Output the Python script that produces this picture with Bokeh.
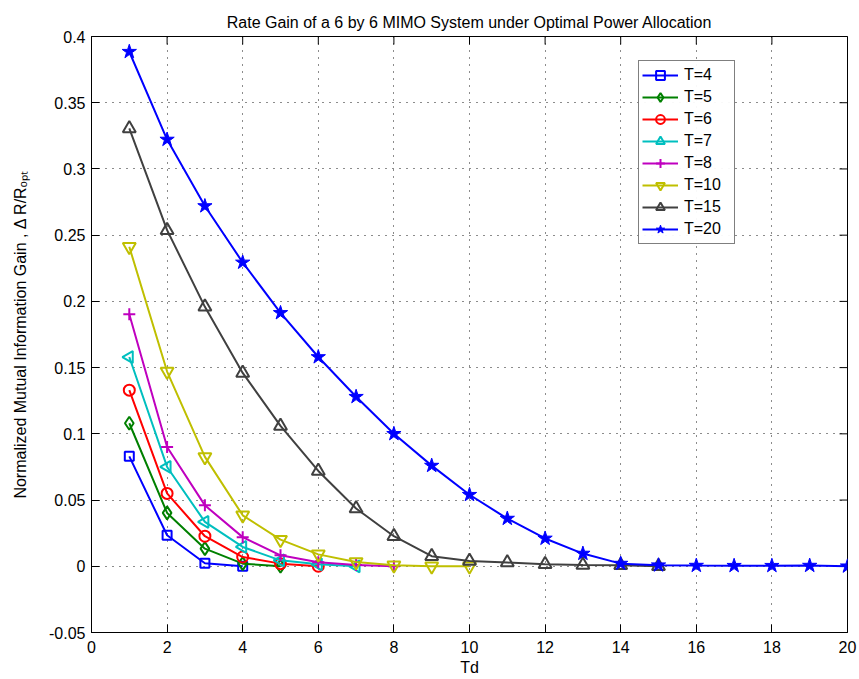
import math
from bokeh.plotting import figure
from bokeh.models import FixedTicker, Range1d, Legend
from bokeh.embed import file_html
from bokeh.resources import INLINE

# ---- data ----
td = list(range(1, 21))
t4 = [0.083, 0.0234, 0.0023, 0.0]
t5 = [0.108, 0.0403, 0.0133, 0.002, 0.0]
t6 = [0.133, 0.055, 0.0227, 0.007, 0.002, 0.0]
t7 = [0.158, 0.075, 0.0335, 0.0146, 0.0045, 0.0015, 0.0]
t8 = [0.1903, 0.090, 0.046, 0.022, 0.0083, 0.003, 0.001, 0.0]
t10 = [0.2412, 0.147, 0.0826, 0.0385, 0.0201, 0.009, 0.0033, 0.0008, 0.0, 0.0]
t15 = [0.3306, 0.2538, 0.1959, 0.146, 0.106, 0.072, 0.0436, 0.0227, 0.0076,
       0.004, 0.0028, 0.0015, 0.001, 0.0008, 0.0]
t20 = [0.3885, 0.3222, 0.272, 0.2294, 0.1913, 0.158, 0.128, 0.100, 0.076,
       0.054, 0.036, 0.021, 0.0096, 0.002, 0.0008, 0.0005, 0.0004, 0.0004,
       0.0005, 0.0]
labels = ["T=4", "T=5", "T=6", "T=7", "T=8", "T=10", "T=15", "T=20"]
series = [t4, t5, t6, t7, t8, t10, t15, t20]
x_ticks = [0, 2, 4, 6, 8, 10, 12, 14, 16, 18, 20]
y_ticks = [-0.05, 0, 0.05, 0.1, 0.15, 0.2, 0.25, 0.3, 0.35, 0.4]
y_tick_labels = ["-0.05", "0", "0.05", "0.1", "0.15", "0.2", "0.25", "0.3", "0.35", "0.4"]

colors = ["#0000ff", "#008000", "#ff0000", "#00bfbf", "#bf00bf", "#bfbf00", "#404040", "#0000ff"]
markers = ["square", "diamond", "circle", "triangle", "cross", "inverted_triangle", "triangle", "star"]
angles = [0, 0, 0, math.pi / 2, 0, 0, 0, 0]
sizes = [9, 13, 11, 12, 12, 13, 13, 15]

FONT = "Liberation Sans"
FS = "16px"

p = figure(frame_width=756, frame_height=596, output_backend="svg", toolbar_location=None,
           x_range=Range1d(x_ticks[0], x_ticks[-1]), y_range=Range1d(y_ticks[0], y_ticks[-1]),
           min_border_left=91, min_border_right=12, min_border_top=36, min_border_bottom=46)
p.background_fill_color = "white"
p.border_fill_color = "white"
p.outline_line_color = "black"
p.outline_line_width = 1

p.title.text = "Rate Gain of a 6 by 6 MIMO System under Optimal Power Allocation"
p.title.align = "center"
p.title.text_font = FONT
p.title.text_font_style = "normal"
p.title.text_font_size = FS
p.title.text_color = "black"
p.title.standoff = 11

# grid
p.xgrid.ticker = FixedTicker(ticks=x_ticks)
p.ygrid.ticker = FixedTicker(ticks=y_ticks)
for g in [p.xgrid[0], p.ygrid[0]]:
    g.grid_line_color = "black"
    g.grid_line_dash = "1 6"
    g.grid_line_width = 1
    g.grid_line_alpha = 0.9

# inward ticks on the top and right edges of the box (half-clipped dash markers)
p.scatter(x_ticks, [y_ticks[-1]] * len(x_ticks), marker="dash", angle=math.pi / 2,
          size=16, line_color="black", line_width=1)
p.scatter([x_ticks[-1]] * len(y_ticks), y_ticks, marker="dash",
          size=16, line_color="black", line_width=1)

items = []
for s, lab, c, m, a, sz in zip(series, labels, colors, markers, angles, sizes):
    xs = td[:len(s)]
    r1 = p.line(xs, s, line_color=c, line_width=2)
    if m == "star":
        r2 = p.scatter(xs, s, marker=m, size=sz, line_color=c, fill_color=c, line_width=1)
    else:
        r2 = p.scatter(xs, s, marker=m, size=sz, angle=a, line_color=c, fill_color=None, line_width=2)
    items.append((lab, [r1, r2]))

legend = Legend(items=items, location=(547, 388))
legend.border_line_color = "black"
legend.border_line_width = 1
legend.background_fill_color = "white"
legend.label_text_font = FONT
legend.label_text_font_size = FS
legend.label_text_color = "black"
legend.padding = 3
legend.spacing = -3
legend.margin = 0
legend.glyph_width = 36
legend.glyph_height = 22
legend.label_height = 22
legend.label_width = 47
legend.label_standoff = 6
p.add_layout(legend, "center")

for ax in [p.xaxis[0], p.yaxis[0]]:
    ax.major_label_text_font = FONT
    ax.major_label_text_font_size = FS
    ax.axis_label_text_font = FONT
    ax.axis_label_text_font_style = "normal"
    ax.axis_label_text_font_size = FS
    ax.axis_label_text_color = "black"
    ax.major_tick_in = 8
    ax.major_tick_out = 0
    ax.minor_tick_in = 0
    ax.minor_tick_out = 0
    ax.axis_line_color = "black"
    ax.major_tick_line_color = "black"
    ax.major_label_text_color = "black"

p.xaxis.ticker = FixedTicker(ticks=x_ticks)
p.yaxis.ticker = FixedTicker(ticks=y_ticks)
p.yaxis.major_label_overrides = {v: t for v, t in zip(y_ticks, y_tick_labels)}
p.xaxis.axis_label = "Td"
p.xaxis.axis_label_standoff = 3
p.xaxis.major_label_standoff = 8
p.yaxis.major_label_standoff = 6
p.yaxis.axis_label = "Normalized Mutual Information Gain , \u0394 R/R\u2092\u209a\u209c"
p.yaxis.axis_label_standoff = 17

open("out.html", "w").write(file_html(p, INLINE))
